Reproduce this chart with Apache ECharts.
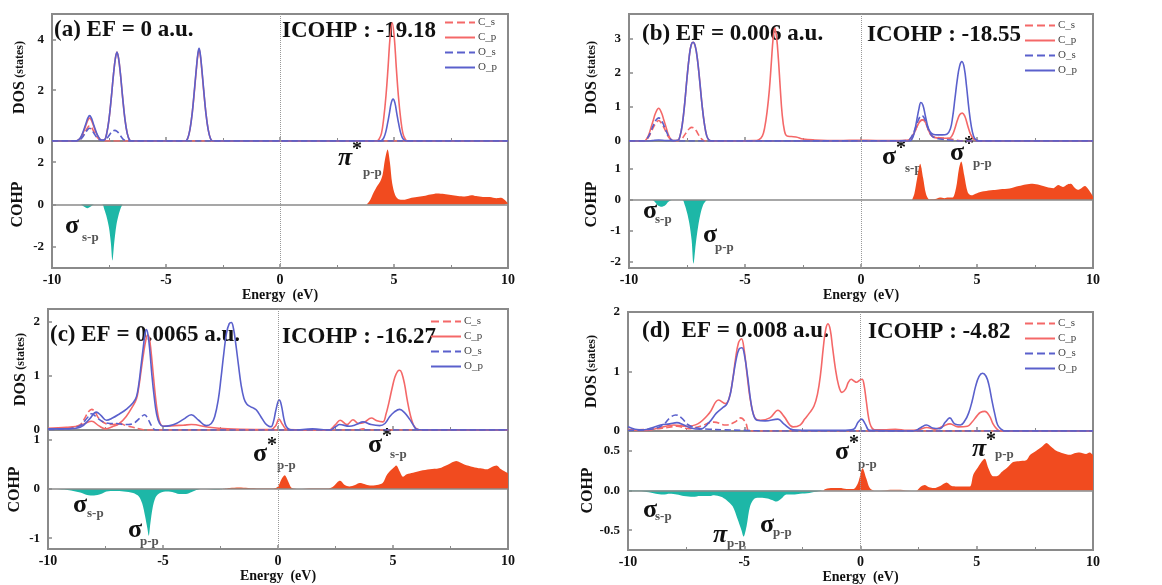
<!DOCTYPE html>
<html>
<head>
<meta charset="utf-8">
<script src="https://cdn.jsdelivr.net/npm/echarts@6/dist/echarts.min.js"></script>
<style>
  html, body { margin: 0; padding: 0; background: #fff; }
  #chart { width: 1162px; height: 585px; }
</style>
</head>
<body>
<div id="chart"></div>
<script>
// ---- data: [energy (eV), value] ----
// panel (a)
const aCs = [[-10,0],[-8.95,0],[-8.8,0.05],[-8.7,0.13],[-8.6,0.27],[-8.5,0.43],[-8.42,0.55],[-8.35,0.6],[-8.28,0.55],[-8.2,0.43],[-8.1,0.27],[-8.0,0.13],[-7.9,0.05],[-7.8,0],[10,0]]
const aCp = [[-10,0],[-8.95,0],[-8.8,0.07],[-8.7,0.2],[-8.6,0.4],[-8.5,0.65],[-8.42,0.83],[-8.35,0.9],[-8.28,0.83],[-8.2,0.65],[-8.1,0.4],[-8.0,0.2],[-7.9,0.07],[-7.8,0.03],[-7.7,0.04],[-7.6,0.3],[-7.5,0.85],[-7.4,1.7],[-7.3,2.65],[-7.22,3.25],[-7.15,3.5],[-7.08,3.25],[-7.0,2.65],[-6.9,1.7],[-6.8,0.85],[-6.7,0.3],[-6.6,0.04],[-6.5,0],[-4.15,0],[-4.05,0.1],[-3.95,0.45],[-3.85,1.1],[-3.75,2.0],[-3.66,2.9],[-3.6,3.4],[-3.55,3.6],[-3.5,3.4],[-3.44,2.9],[-3.35,2.0],[-3.25,1.1],[-3.15,0.45],[-3.05,0.1],[-2.95,0],[4.25,0],[4.35,0.08],[4.45,0.3],[4.55,0.9],[4.65,1.8],[4.74,2.9],[4.83,4.1],[4.92,4.65],[5.01,4.1],[5.1,2.9],[5.19,1.8],[5.29,0.9],[5.39,0.3],[5.49,0.08],[5.6,0],[10,0]]
const aOs = [[-10,0],[-8.95,0],[-8.8,0.04],[-8.7,0.11],[-8.6,0.23],[-8.5,0.37],[-8.42,0.47],[-8.35,0.5],[-8.28,0.46],[-8.2,0.36],[-8.1,0.22],[-8.0,0.1],[-7.85,0.03],[-7.65,0.05],[-7.55,0.15],[-7.45,0.28],[-7.35,0.38],[-7.25,0.42],[-7.15,0.38],[-7.05,0.28],[-6.95,0.15],[-6.85,0.05],[-6.7,0],[10,0]]
const aOp = [[-10,0],[-8.95,0],[-8.8,0.08],[-8.7,0.22],[-8.6,0.45],[-8.5,0.72],[-8.42,0.92],[-8.35,1.0],[-8.28,0.92],[-8.2,0.72],[-8.1,0.45],[-8.0,0.22],[-7.9,0.08],[-7.8,0.03],[-7.7,0.04],[-7.6,0.3],[-7.5,0.85],[-7.4,1.7],[-7.3,2.65],[-7.22,3.25],[-7.15,3.5],[-7.08,3.25],[-7.0,2.65],[-6.9,1.7],[-6.8,0.85],[-6.7,0.3],[-6.6,0.04],[-6.5,0],[-4.15,0],[-4.05,0.1],[-3.95,0.45],[-3.85,1.1],[-3.75,2.05],[-3.66,2.95],[-3.6,3.45],[-3.55,3.65],[-3.5,3.45],[-3.44,2.95],[-3.35,2.05],[-3.25,1.1],[-3.15,0.45],[-3.05,0.1],[-2.95,0],[4.4,0],[4.48,0.04],[4.56,0.14],[4.64,0.36],[4.72,0.7],[4.8,1.1],[4.88,1.5],[4.96,1.65],[5.04,1.5],[5.12,1.1],[5.2,0.7],[5.28,0.36],[5.36,0.14],[5.44,0.04],[5.55,0],[10,0]]
const aNeg = [[-10,0],[-8.75,0],[-8.6,-0.1],[-8.45,-0.18],[-8.3,-0.1],[-8.15,0],[-7.8,0],[-7.7,-0.25],[-7.6,-0.6],[-7.5,-1.1],[-7.42,-1.8],[-7.35,-2.65],[-7.27,-1.8],[-7.18,-1.0],[-7.08,-0.5],[-6.98,-0.15],[-6.9,0]]
const aPos = [[3.8,0],[3.95,0.2],[4.1,0.55],[4.25,0.85],[4.4,1.1],[4.5,1.4],[4.6,2.1],[4.72,2.6],[4.82,2.0],[4.92,1.0],[5.05,0.45],[5.2,0.25],[5.4,0.22],[5.7,0.3],[6.0,0.35],[6.3,0.4],[6.6,0.47],[6.9,0.52],[7.2,0.5],[7.5,0.45],[7.8,0.4],[8.1,0.38],[8.4,0.44],[8.6,0.4],[8.9,0.36],[9.2,0.36],[9.5,0.3],[9.7,0.32],[9.85,0.22],[10,0.05]]

// panel (b)
const bCs = [[-10,0],[-9.35,0],[-9.25,0.04],[-9.15,0.12],[-9.05,0.26],[-8.95,0.4],[-8.85,0.52],[-8.72,0.6],[-8.6,0.52],[-8.5,0.4],[-8.4,0.26],[-8.3,0.12],[-8.2,0.04],[-8.1,0],[-7.8,0.02],[-7.7,0.08],[-7.6,0.18],[-7.5,0.28],[-7.4,0.36],[-7.3,0.4],[-7.2,0.38],[-7.1,0.3],[-7.0,0.18],[-6.9,0.08],[-6.8,0.02],[-6.7,0],[2.0,0.01],[2.15,0.08],[2.3,0.25],[2.45,0.48],[2.57,0.6],[2.67,0.62],[2.8,0.5],[2.92,0.3],[3.05,0.16],[3.3,0.1],[3.7,0.08],[4.0,0.04],[4.4,0],[10,0]]
const bCp = [[-10,0],[-9.35,0],[-9.25,0.05],[-9.15,0.18],[-9.05,0.4],[-8.95,0.62],[-8.85,0.83],[-8.72,0.96],[-8.6,0.83],[-8.5,0.62],[-8.4,0.4],[-8.3,0.18],[-8.2,0.05],[-8.1,0.01],[-7.9,0.02],[-7.8,0.15],[-7.7,0.5],[-7.6,1.1],[-7.5,1.85],[-7.4,2.5],[-7.32,2.82],[-7.24,2.9],[-7.15,2.8],[-7.05,2.4],[-6.95,1.75],[-6.85,1.05],[-6.75,0.5],[-6.65,0.15],[-6.55,0.03],[-6.4,0],[-4.6,0.01],[-4.4,0.04],[-4.25,0.15],[-4.15,0.4],[-4.05,0.85],[-3.95,1.5],[-3.86,2.35],[-3.79,3.0],[-3.72,3.32],[-3.64,3.05],[-3.56,2.4],[-3.48,1.55],[-3.4,0.8],[-3.3,0.3],[-3.2,0.15],[-3.0,0.13],[-2.8,0.12],[-2.5,0.06],[-2.0,0.03],[-1.0,0.01],[-0.5,0.02],[0.3,0.02],[1.0,0.01],[2.0,0.02],[2.15,0.08],[2.3,0.25],[2.45,0.48],[2.57,0.6],[2.67,0.62],[2.8,0.52],[2.92,0.3],[3.05,0.15],[3.2,0.1],[3.5,0.08],[3.8,0.08],[3.92,0.15],[4.04,0.35],[4.15,0.6],[4.26,0.78],[4.37,0.82],[4.48,0.72],[4.6,0.45],[4.72,0.2],[4.85,0.06],[5.0,0.01],[5.2,0],[10,0]]
const bOs = [[-10,0],[-9.35,0],[-9.25,0.05],[-9.15,0.14],[-9.05,0.3],[-8.95,0.46],[-8.85,0.6],[-8.72,0.68],[-8.6,0.6],[-8.5,0.46],[-8.4,0.3],[-8.3,0.14],[-8.2,0.05],[-8.1,0],[2.0,0.01],[2.15,0.1],[2.3,0.3],[2.45,0.58],[2.55,0.72],[2.62,0.75],[2.72,0.68],[2.85,0.45],[3.0,0.2],[3.15,0.1],[3.4,0.06],[3.8,0.03],[4.3,0],[10,0]]
const bOp = [[-10,0],[-9.2,0],[-9.0,0.01],[-8.72,0.03],[-8.4,0.01],[-7.9,0.02],[-7.8,0.15],[-7.7,0.5],[-7.6,1.1],[-7.5,1.85],[-7.4,2.5],[-7.32,2.82],[-7.24,2.9],[-7.15,2.8],[-7.05,2.4],[-6.95,1.75],[-6.85,1.05],[-6.75,0.5],[-6.65,0.15],[-6.55,0.03],[-6.4,0],[2.1,0],[2.2,0.06],[2.3,0.25],[2.4,0.6],[2.5,0.95],[2.58,1.13],[2.67,1.05],[2.77,0.75],[2.87,0.45],[2.97,0.28],[3.1,0.2],[3.3,0.18],[3.5,0.18],[3.7,0.2],[3.85,0.35],[3.95,0.7],[4.05,1.25],[4.15,1.8],[4.25,2.2],[4.35,2.33],[4.45,2.15],[4.55,1.6],[4.65,0.95],[4.75,0.45],[4.85,0.15],[4.95,0.04],[5.1,0],[10,0]]
const bNeg = [[-10,0],[-9.0,0],[-8.9,-0.05],[-8.75,-0.18],[-8.6,-0.22],[-8.45,-0.18],[-8.3,-0.06],[-8.15,0],[-7.7,0],[-7.6,-0.15],[-7.5,-0.4],[-7.4,-0.75],[-7.3,-1.3],[-7.22,-2.05],[-7.12,-1.4],[-7.02,-0.85],[-6.92,-0.45],[-6.8,-0.15],[-6.65,0]]
const bPos = [[2.2,0],[2.3,0.2],[2.42,0.7],[2.55,1.17],[2.68,0.7],[2.8,0.2],[2.95,0.02],[3.2,0.03],[3.4,0.08],[3.6,0.06],[3.75,0.08],[3.95,0.08],[4.1,0.4],[4.22,1.0],[4.32,1.24],[4.45,0.8],[4.6,0.25],[4.75,0.15],[5.0,0.22],[5.3,0.28],[5.7,0.32],[6.0,0.35],[6.4,0.37],[6.8,0.45],[7.1,0.5],[7.4,0.52],[7.7,0.48],[8.0,0.42],[8.3,0.38],[8.5,0.48],[8.7,0.42],[8.9,0.5],[9.05,0.52],[9.2,0.4],[9.35,0.33],[9.5,0.38],[9.65,0.45],[9.8,0.35],[10,0.12]]

// panel (c)
const cCs = [[-10,0.02],[-9.2,0.03],[-8.6,0.1],[-8.4,0.22],[-8.25,0.33],[-8.1,0.38],[-7.95,0.33],[-7.8,0.22],[-7.5,0.12],[-7.2,0.1],[-6.88,0.12],[-6.6,0.08],[-6.3,0.05],[-5.9,0.01],[-5.5,0],[3.4,0],[3.7,0.02],[4.0,0],[10,0]]
const cCp = [[-10,0.03],[-9.2,0.05],[-8.6,0.08],[-8.3,0.14],[-8.1,0.16],[-7.8,0.08],[-7.5,0.02],[-7.2,0.06],[-6.9,0.12],[-6.6,0.25],[-6.3,0.45],[-6.15,0.58],[-6.05,0.8],[-5.95,1.1],[-5.85,1.4],[-5.75,1.65],[-5.67,1.75],[-5.6,1.7],[-5.52,1.45],[-5.43,1.05],[-5.33,0.62],[-5.23,0.3],[-5.12,0.12],[-5.0,0.07],[-4.5,0.08],[-4.1,0.09],[-3.77,0.1],[-3.0,0.05],[-2.2,0.02],[-1.0,0.01],[-0.3,0.01],[-0.1,0.08],[0.04,0.2],[0.2,0.1],[0.4,0.01],[2.2,0],[2.5,0.1],[2.7,0.18],[3.0,0.1],[3.26,0.19],[3.5,0.12],[3.75,0.14],[4.06,0.22],[4.3,0.17],[4.56,0.15],[4.7,0.3],[4.82,0.5],[4.95,0.75],[5.08,0.97],[5.2,1.08],[5.29,1.1],[5.38,1.05],[5.5,0.85],[5.62,0.55],[5.75,0.28],[5.88,0.1],[6.0,0.03],[6.2,0],[10,0]]
const cOs = [[-10,0.01],[-9.2,0.02],[-8.6,0.08],[-8.3,0.22],[-8.1,0.3],[-7.85,0.22],[-7.6,0.15],[-7.3,0.12],[-7.0,0.12],[-6.7,0.1],[-6.5,0.1],[-6.25,0.13],[-6.0,0.22],[-5.8,0.28],[-5.65,0.2],[-5.5,0.08],[-5.3,0],[10,0]]
const cOp = [[-10,0.02],[-9.2,0.02],[-8.6,0.05],[-8.2,0.2],[-7.9,0.33],[-7.7,0.27],[-7.46,0.18],[-7.2,0.22],[-6.88,0.3],[-6.6,0.38],[-6.3,0.5],[-6.15,0.62],[-6.05,0.85],[-5.95,1.2],[-5.85,1.55],[-5.78,1.78],[-5.72,1.85],[-5.65,1.75],[-5.57,1.45],[-5.48,1.0],[-5.38,0.6],[-5.28,0.3],[-5.15,0.12],[-5.0,0.07],[-4.7,0.08],[-4.42,0.12],[-4.1,0.2],[-3.77,0.28],[-3.45,0.18],[-3.12,0.08],[-2.9,0.12],[-2.75,0.25],[-2.6,0.55],[-2.48,0.95],[-2.36,1.4],[-2.24,1.78],[-2.12,1.96],[-2.03,1.98],[-1.94,1.88],[-1.84,1.6],[-1.72,1.2],[-1.6,0.82],[-1.48,0.58],[-1.36,0.48],[-1.2,0.43],[-1.05,0.4],[-0.94,0.37],[-0.75,0.25],[-0.55,0.12],[-0.4,0.07],[-0.3,0.06],[-0.2,0.15],[-0.1,0.35],[0.0,0.52],[0.06,0.55],[0.15,0.45],[0.25,0.22],[0.35,0.07],[0.5,0.01],[0.65,0],[1.5,0.02],[2.25,0],[2.5,0.06],[2.68,0.1],[3.1,0.07],[3.4,0.1],[3.7,0.15],[4.05,0.1],[4.42,0.08],[4.65,0.12],[4.86,0.25],[5.05,0.33],[5.29,0.38],[5.5,0.32],[5.72,0.2],[5.9,0.08],[6.0,0.02],[6.3,0],[10,0]]
const cNeg = [[-10,0],[-9.3,-0.01],[-9.0,-0.03],[-8.6,-0.07],[-8.3,-0.12],[-8.0,-0.13],[-7.7,-0.1],[-7.46,-0.05],[-7.1,-0.04],[-6.7,-0.05],[-6.3,-0.08],[-6.05,-0.15],[-5.9,-0.3],[-5.78,-0.55],[-5.68,-0.8],[-5.62,-0.95],[-5.55,-0.7],[-5.45,-0.38],[-5.33,-0.18],[-5.2,-0.1],[-4.9,-0.05],[-4.6,-0.06],[-4.3,-0.1],[-4.0,-0.1],[-3.75,-0.06],[-3.55,-0.02],[-3.3,0],[-2.6,-0.01],[-2.4,0]]
const cPos = [[-2.4,0],[-2.1,0.02],[-1.7,0.03],[-1.3,0.02],[-0.8,0.01],[-0.2,0.01],[0.0,0.05],[0.15,0.2],[0.29,0.28],[0.45,0.15],[0.6,0.02],[0.9,0],[1.5,0.01],[2.2,0.01],[2.4,0.05],[2.6,0.15],[2.7,0.17],[2.9,0.08],[3.1,0.05],[3.35,0.08],[3.55,0.12],[3.75,0.1],[4.0,0.07],[4.3,0.08],[4.55,0.12],[4.75,0.3],[5.0,0.42],[5.14,0.48],[5.3,0.35],[5.43,0.25],[5.6,0.3],[5.87,0.33],[6.2,0.37],[6.6,0.4],[7.0,0.42],[7.4,0.5],[7.75,0.57],[8.1,0.5],[8.48,0.45],[8.8,0.42],[9.06,0.4],[9.3,0.45],[9.5,0.48],[9.7,0.4],[10,0.32]]

// panel (d)
const dCs = [[-10,0.02],[-9.0,0.03],[-8.3,0.06],[-7.9,0.08],[-7.4,0.04],[-6.9,0.08],[-6.3,0.15],[-5.8,0.1],[-5.4,0.15],[-5.15,0.22],[-4.95,0.15],[-4.77,0],[-4.0,0],[10,0]]
const dCp = [[-10,0.03],[-9.6,0.01],[-9.2,0.01],[-8.7,0.05],[-8.04,0.1],[-7.5,0.08],[-7.0,0.12],[-6.5,0.3],[-6.1,0.52],[-5.8,0.46],[-5.65,0.55],[-5.5,0.85],[-5.38,1.2],[-5.25,1.48],[-5.12,1.55],[-5.0,1.35],[-4.88,0.95],[-4.75,0.55],[-4.62,0.3],[-4.5,0.2],[-4.3,0.18],[-3.9,0.22],[-3.55,0.35],[-3.3,0.25],[-2.9,0.07],[-2.6,0.1],[-2.4,0.2],[-2.2,0.3],[-2.0,0.42],[-1.85,0.62],[-1.72,0.95],[-1.6,1.4],[-1.5,1.7],[-1.4,1.8],[-1.3,1.7],[-1.2,1.4],[-1.08,1.05],[-0.95,0.78],[-0.8,0.65],[-0.65,0.7],[-0.52,0.82],[-0.4,0.87],[-0.28,0.84],[-0.17,0.82],[-0.05,0.85],[0.07,0.87],[0.15,0.78],[0.25,0.5],[0.35,0.22],[0.45,0.08],[0.6,0.02],[1.0,0.02],[1.5,0.03],[2.0,0.01],[2.5,0.02],[2.85,0.06],[3.2,0.03],[3.55,0.08],[3.85,0.12],[4.2,0.07],[4.6,0.08],[4.8,0.15],[5.0,0.25],[5.15,0.31],[5.35,0.33],[5.55,0.25],[5.7,0.12],[5.85,0.04],[6.0,0],[10,0]]
const dOs = [[-10,0.01],[-9.0,0.03],[-8.5,0.1],[-8.2,0.22],[-7.95,0.27],[-7.7,0.22],[-7.4,0.1],[-7.0,0.05],[-6.5,0.03],[-5.9,0.02],[-5.0,0.01],[-4.0,0],[10,0]]
const dOp = [[-10,0.07],[-9.7,0.03],[-9.3,0.02],[-9.0,0.05],[-8.6,0.1],[-8.2,0.12],[-7.9,0.14],[-7.6,0.1],[-7.3,0.05],[-6.9,0.03],[-6.5,0.15],[-6.2,0.3],[-5.9,0.4],[-5.75,0.45],[-5.6,0.62],[-5.48,0.9],[-5.35,1.2],[-5.22,1.38],[-5.1,1.4],[-4.98,1.25],[-4.85,0.9],[-4.72,0.5],[-4.6,0.27],[-4.45,0.18],[-4.1,0.17],[-3.55,0.2],[-3.3,0.12],[-2.9,0.02],[-2.0,0.01],[-0.8,0.01],[-0.3,0.03],[-0.1,0.15],[0.05,0.2],[0.2,0.12],[0.4,0.01],[2.3,0],[2.6,0.06],[2.84,0.1],[3.1,0.05],[3.41,0.04],[3.65,0.15],[3.84,0.22],[4.05,0.12],[4.3,0.1],[4.5,0.18],[4.65,0.3],[4.8,0.5],[4.95,0.75],[5.1,0.92],[5.25,0.97],[5.4,0.92],[5.52,0.78],[5.65,0.52],[5.78,0.28],[5.9,0.1],[6.05,0.03],[6.2,0],[10,0]]
const dNeg = [[-10,-0.01],[-9.5,-0.01],[-9.2,-0.02],[-8.8,-0.04],[-8.5,-0.05],[-8.2,-0.04],[-7.9,-0.05],[-7.6,-0.07],[-7.2,-0.08],[-6.9,-0.07],[-6.5,-0.07],[-6.3,-0.06],[-6.0,-0.08],[-5.77,-0.12],[-5.5,-0.2],[-5.3,-0.35],[-5.12,-0.5],[-5.03,-0.58],[-4.9,-0.45],[-4.75,-0.2],[-4.55,-0.1],[-4.3,-0.09],[-4.0,-0.1],[-3.8,-0.12],[-3.62,-0.14],[-3.4,-0.1],[-3.19,-0.05],[-2.9,-0.05],[-2.6,-0.04],[-2.2,-0.03],[-1.8,-0.01],[-1.6,0]]
const dPos = [[-1.6,0],[-1.5,0.02],[-1.2,0.03],[-0.9,0.03],[-0.6,0.02],[-0.3,0.02],[-0.1,0.1],[0.09,0.28],[0.25,0.15],[0.4,0.03],[0.6,0],[1.5,0.01],[2.4,0],[2.6,0.05],[2.76,0.07],[2.95,0.04],[3.15,0.03],[3.45,0.06],[3.7,0.1],[3.9,0.06],[4.15,0.05],[4.4,0.05],[4.7,0.05],[4.85,0.2],[5.0,0.27],[5.2,0.36],[5.34,0.4],[5.5,0.28],[5.7,0.18],[5.85,0.18],[6.1,0.24],[6.35,0.3],[6.56,0.36],[6.8,0.37],[7.13,0.38],[7.3,0.45],[7.56,0.5],[7.8,0.55],[8.0,0.6],[8.2,0.55],[8.42,0.5],[8.7,0.47],[9.0,0.45],[9.2,0.47],[9.42,0.48],[9.7,0.46],[9.85,0.48],[10,0.45]]

// titles and axis ranges
const efText = ['(a) EF = 0 a.u.', '(b) EF = 0.006 a.u.', '(c) EF = 0.0065 a.u.', '(d)  EF = 0.008 a.u.']
const icohpText = ['ICOHP : -19.18', 'ICOHP : -18.55', 'ICOHP : -16.27', 'ICOHP : -4.82']
const dosMax = [5, 3.73, 2.23, 2]
const dosTicks = [[0, 2, 4], [0, 1, 2, 3], [0, 1, 2], [0, 1, 2]]
const cohpRange = [[-3, 3], [-2.19, 1.9], [-1.22, 1.2], [-0.75, 0.75]]
const cohpTicks = [[-2, 0, 2], [-2, -1, 0, 1], [-1, 0, 1], [-0.5, 0, 0.5]]
const names = ['C_s', 'C_p', 'O_s', 'O_p']

const panels = [
  { dos: [aCs, aCp, aOs, aOp], neg: aNeg, pos: aPos },
  { dos: [bCs, bCp, bOs, bOp], neg: bNeg, pos: bPos },
  { dos: [cCs, cCp, cOs, cOp], neg: cNeg, pos: cPos },
  { dos: [dCs, dCp, dOs, dOp], neg: dNeg, pos: dPos }
]

const FONT = 'Liberation Serif'
const RED = '#f46868'
const BLUE = '#5a60cc'
const TEAL = '#1db7a7'
const ORANGE = '#f14b1f'
const FRAME = '#8a8a8a'

// layout of the 4 panels: [left, width, dosTop, split, bottom]
const boxes = [
  [52, 456, 14, 141, 268],
  [629, 464, 14, 141, 268],
  [48, 460, 309, 430, 549],
  [628, 465, 312, 431, 550]
]
const dosGap = [24, 29, 19, 28]
const cohpGap = [26, 29, 25, 30]
const legendPos = [[444, 17], [1024, 20], [430, 316], [1024, 318]]

const grids = []
const xAxes = []
const yAxes = []
const series = []
const legends = []

const fmt = (p) => (v) => (p === 3 ? v.toFixed(1) : String(v))

panels.forEach((p, i) => {
  const [left, width, top, mid, bottom] = boxes[i]
  const gDos = i * 2
  const gCohp = i * 2 + 1
  grids.push({ left, width, top, height: mid - top, show: true, borderColor: FRAME, borderWidth: 2, backgroundColor: 'transparent' })
  grids.push({ left, width, top: mid, height: bottom - mid, show: true, borderColor: FRAME, borderWidth: 2, backgroundColor: 'transparent' })

  ;[gDos, gCohp].forEach((g) => {
    const isCohp = g === gCohp
    xAxes.push({
      type: 'value', gridIndex: g, min: -10, max: 10, interval: 5,
      axisLine: { show: false, onZero: false },
      axisTick: { show: true, inside: true, length: 4, lineStyle: { color: FRAME, width: 1.5 } },
      minorTick: { show: true, splitNumber: 2, length: 3, lineStyle: { color: FRAME } },
      splitLine: { show: false },
      axisLabel: { show: isCohp, margin: 5, color: '#111', fontFamily: FONT, fontWeight: 'bold', fontSize: 14 },
      name: isCohp ? 'Energy  (eV)' : '',
      nameLocation: 'middle', nameGap: 20,
      nameTextStyle: { color: '#111', fontFamily: FONT, fontWeight: 'bold', fontSize: 14 }
    })
  })

  yAxes.push({
    type: 'value', gridIndex: gDos, min: 0, max: dosMax[i],
    axisLine: { show: false, onZero: false },
    axisTick: { show: true, inside: true, length: 4, customValues: dosTicks[i], lineStyle: { color: FRAME, width: 1.5 } },
    splitLine: { show: false },
    axisLabel: { customValues: dosTicks[i], margin: 8, color: '#111', fontFamily: FONT, fontWeight: 'bold', fontSize: 13 },
    name: '{a|DOS} {b|(states)}', nameLocation: 'middle', nameGap: dosGap[i],
    nameTextStyle: {
      rich: {
        a: { fontFamily: FONT, fontWeight: 'bold', fontSize: 16, color: '#111' },
        b: { fontFamily: FONT, fontWeight: 'bold', fontSize: 12, color: '#111' }
      }
    }
  })
  yAxes.push({
    type: 'value', gridIndex: gCohp, min: cohpRange[i][0], max: cohpRange[i][1],
    axisLine: { show: false, onZero: false },
    axisTick: { show: true, inside: true, length: 4, customValues: cohpTicks[i], lineStyle: { color: FRAME, width: 1.5 } },
    splitLine: { show: false },
    axisLabel: { customValues: cohpTicks[i], formatter: fmt(i), margin: 8, color: '#111', fontFamily: FONT, fontWeight: 'bold', fontSize: 13 },
    name: 'COHP', nameLocation: 'middle', nameGap: cohpGap[i],
    nameTextStyle: { fontFamily: FONT, fontWeight: 'bold', fontSize: 16, color: '#111' }
  })

  // DOS curves
  p.dos.forEach((d, k) => {
    const s = {
      type: 'line', name: names[k], xAxisIndex: gDos, yAxisIndex: gDos,
      data: d, symbol: 'none', smooth: 0.4, clip: true,
      lineStyle: { color: k < 2 ? RED : BLUE, width: 1.6, type: k % 2 === 0 ? 'dashed' : 'solid' },
      itemStyle: { color: k < 2 ? RED : BLUE }
    }
    if (k === 3) {
      s.markLine = {
        silent: true, symbol: 'none', label: { show: false }, animation: false,
        lineStyle: { type: 'dotted', color: '#999', width: 1 },
        data: [{ xAxis: 0 }]
      }
    }
    series.push(s)
  })

  // COHP areas
  series.push({
    type: 'line', name: 'bonding', xAxisIndex: gCohp, yAxisIndex: gCohp,
    data: p.neg, symbol: 'none', smooth: 0.3,
    lineStyle: { width: 0 }, areaStyle: { color: TEAL, opacity: 1 },
    markLine: {
      silent: true, symbol: 'none', label: { show: false }, animation: false,
      data: [
        { xAxis: 0, lineStyle: { type: 'dotted', color: '#999', width: 1 } },
        { yAxis: 0, lineStyle: { type: 'solid', color: FRAME, width: 1.5 } }
      ]
    }
  })
  series.push({
    type: 'line', name: 'antibonding', xAxisIndex: gCohp, yAxisIndex: gCohp,
    data: p.pos, symbol: 'none', smooth: 0.3,
    lineStyle: { width: 0 }, areaStyle: { color: ORANGE, opacity: 1 }
  })

  legends.push({
    data: names, orient: 'vertical', left: legendPos[i][0], top: legendPos[i][1],
    itemWidth: 30, itemHeight: 10, itemGap: 4, selectedMode: false, padding: 0,
    itemStyle: { opacity: 0 },
    textStyle: { fontFamily: FONT, fontSize: 11, color: '#444', padding: [0, 0, 0, -2] }
  })
})

// text annotations
const graphics = []
const titlePos = [[54, 30, 282, 31], [642, 34, 867, 35], [50, 335, 282, 337], [642, 331, 868, 332]]
titlePos.forEach((t, i) => {
  graphics.push({ type: 'text', x: t[0], y: t[1], silent: true,
    style: { text: efText[i], font: `bold 23px "${FONT}"`, fill: '#111', verticalAlign: 'middle' } })
  graphics.push({ type: 'text', x: t[2], y: t[3], silent: true,
    style: { text: icohpText[i], font: `bold 23px "${FONT}"`, fill: '#111', verticalAlign: 'middle' } })
})

// [glyph, star, subscript, x, y, subX, subY]
const bondLabels = [
  ['σ', false, 's-p', 65, 226, 82, 238],
  ['π', true, 'p-p', 338, 158, 363, 173],
  ['σ', true, 's-p', 882, 157, 905, 169],
  ['σ', true, 'p-p', 950, 153, 973, 164],
  ['σ', false, 's-p', 643, 211, 655, 220],
  ['σ', false, 'p-p', 703, 235, 715, 248],
  ['σ', true, 'p-p', 253, 454, 277, 466],
  ['σ', true, 's-p', 368, 445, 390, 455],
  ['σ', false, 's-p', 73, 505, 87, 514],
  ['σ', false, 'p-p', 128, 530, 140, 542],
  ['σ', true, 'p-p', 835, 452, 858, 465],
  ['π', true, 'p-p', 972, 449, 995, 455],
  ['σ', false, 's-p', 643, 510, 655, 517],
  ['π', false, 'p-p', 713, 535, 727, 544],
  ['σ', false, 'p-p', 760, 525, 773, 533]
]
bondLabels.forEach((b) => {
  const [g, star, sub, x, y, sx, sy] = b
  const style = g === 'π' ? 'italic bold' : 'bold'
  graphics.push({ type: 'text', x, y, silent: true,
    style: { text: g, font: `${style} 26px "${FONT}"`, fill: '#111', verticalAlign: 'middle' } })
  if (star) {
    graphics.push({ type: 'text', x: x + 14, y: y - 8, silent: true,
      style: { text: '*', font: `bold 20px "${FONT}"`, fill: '#111', verticalAlign: 'middle' } })
  }
  graphics.push({ type: 'text', x: sx, y: sy, silent: true,
    style: { text: sub, font: `bold 13px "${FONT}"`, fill: '#555', verticalAlign: 'middle' } })
})

const chart = echarts.init(document.getElementById('chart'))
chart.setOption({
  animation: false,
  backgroundColor: '#fff',
  grid: grids,
  xAxis: xAxes,
  yAxis: yAxes,
  legend: legends,
  series: series,
  graphic: graphics
})
</script>
</body>
</html>
